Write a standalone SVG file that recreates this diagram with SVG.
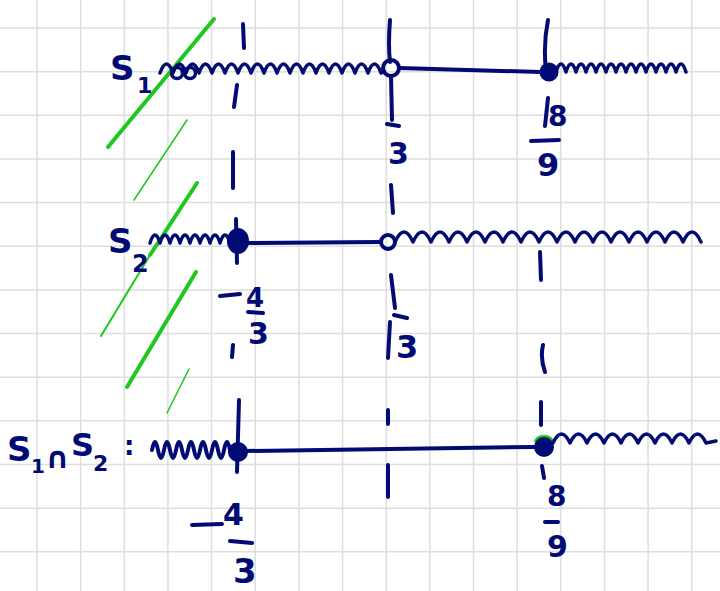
<svg xmlns="http://www.w3.org/2000/svg" width="720" height="591" viewBox="0 0 720 591">
<style>
.grid{stroke:#dedede;stroke-width:1.5;fill:none}
.ink{stroke:#020a74;stroke-width:4;fill:none;stroke-linecap:round;stroke-linejoin:round}
.thin{stroke-width:3.5}
.dot{fill:#020a74}
.g{stroke:#1ec81e;fill:none;stroke-linecap:round}
.t{fill:#020a74;font-family:"DejaVu Sans",sans-serif;font-weight:bold}
</style>
<rect width="720" height="591" fill="#ffffff"/>
<path class="grid" d="M37,0V591M80.65,0V591M124.3,0V591M167.95,0V591M211.6,0V591M255.25,0V591M298.9,0V591M342.55,0V591M386.2,0V591M429.85,0V591M473.5,0V591M517.15,0V591M560.8,0V591M604.45,0V591M648.1,0V591M691.75,0V591M0,28H720M0,71.65H720M0,115.3H720M0,158.95H720M0,202.6H720M0,246.25H720M0,289.9H720M0,333.55H720M0,377.2H720M0,420.85H720M0,464.5H720M0,508.15H720M0,551.8H720"/>
<g id="green-hatch">
<path class="g" stroke-width="4" d="M108,147L214,19"/>
<path class="g" stroke-width="1.5" d="M134,200L187,120"/>
<path class="g" stroke-width="4" d="M197,183L150,255"/>
<path class="g" stroke-width="2" d="M150,255L101,336"/>
<path class="g" stroke-width="4" d="M196,272L127,387"/>
<path class="g" stroke-width="1.5" d="M167,413L189,369"/>
</g>
<g id="connectors">
<g id="dashes" class="ink">
<path d="M243,24L244,48M237,85L234,107M233,152L233,188M236,219L237,263M233,345L232,357M239,400L237,472"/>
<path d="M390,20Q388,45 390,62M391,76L392,120M387,124L399,126M391,185L393,213M391,275L395,308M394,315L407,318M390,322L388,358M388,410L388,424M388,465L388,497"/>
<path d="M548,20Q543,45 546,70M548,98L545,126M540,252L541,280M543,345Q540,358 545,372M541,402L541,425M542,466L544,478"/>
</g>
<g id="line-s1">
<path class="ink thin" d="M160,73q6.5,-18 13,0q6.5,-18 13,0q6.5,-18 13,0q6.5,-18 13,0q6.5,-18 13,0q6.5,-18 13,0q6.5,-18 13,0q6.5,-18 13,0q6.5,-18 13,0q6.5,-18 13,0q6.5,-18 13,0q6.5,-18 13,0q6.5,-18 13,0q6.5,-18 13,0q6.5,-18 13,0q6.5,-18 13,0q6.5,-18 13,0L384,71"/>
<circle class="ink thin" cx="177" cy="73" r="5.5"/>
<circle class="ink thin" cx="190" cy="73" r="5.5"/>
<circle class="ink" cx="391" cy="68" r="8"/>
<path class="ink" d="M399,68L541,72"/>
<circle class="dot" cx="549" cy="72" r="9.5"/>
<path class="ink thin" d="M556,72q5,-16 10,0q5,-16 10,0q5,-16 10,0q5,-16 10,0q5,-16 10,0q5,-16 10,0q5,-16 10,0q5,-16 10,0q5,-16 10,0q5,-16 10,0q5,-16 10,0q5,-16 10,0q5,-16 10,0"/>
</g>
<g id="line-s2">
<path class="ink thin" d="M150,243q5,-16 10,0q5,-16 10,0q5,-16 10,0q5,-16 10,0q5,-16 10,0q5,-16 10,0q5,-16 10,0q5,-16 10,0L232,242"/>
<ellipse class="dot" cx="238" cy="241" rx="11" ry="13"/>
<path class="ink" d="M248,243L381,242"/>
<circle class="ink" cx="388" cy="242" r="7"/>
<path class="ink thin" d="M395,242q9,-20 18,0q9,-20 18,0q9,-20 18,0q9,-20 18,0q9,-20 18,0q9,-20 18,0q9,-20 18,0q9,-20 18,0q9,-20 18,0q9,-20 18,0q9,-20 18,0q9,-20 18,0q9,-20 18,0q9,-20 18,0q9,-20 18,0q9,-20 18,0q9,-20 18,0"/>
</g>
<g id="line-s1s2">
<path class="ink" d="M152,450q3,-16 6,0q3,16 6,0q3,-16 6,0q3,16 6,0q3,-16 6,0q3,16 6,0q3,-16 6,0q3,16 6,0q3,-16 6,0q3,16 6,0q3,-16 6,0q3,16 6,0q3,-16 6,0L232,451"/>
<circle class="dot" cx="238" cy="452" r="10"/>
<path class="ink" d="M246,451L535,447"/>
<path d="M535,442A10,10 0 0 1 553,442" stroke="#1ec81e" stroke-width="3" fill="none"/>
<circle class="dot" cx="544" cy="447" r="10"/>
<path class="ink thin" d="M553,443q8.5,-18 17,0q8.5,-18 17,0q8.5,-18 17,0q8.5,-18 17,0q8.5,-18 17,0q8.5,-18 17,0q8.5,-18 17,0q8.5,-18 17,0q8.5,-18 17,0L716,441"/>
</g>
<g id="fraction-bars" class="ink">
<path d="M531,141L559,140M220,296L240,294M248,312L263,313M192,525L222,524M230,541L252,543M545,522L558,522"/>
</g>
</g>
<g id="labels">
<text class="t" x="110" y="80" font-size="34">S</text>
<text class="t" x="137" y="93" font-size="22">1</text>
<text class="t" x="108" y="253" font-size="34">S</text>
<text class="t" x="132" y="272" font-size="24">2</text>
<text class="t" x="7" y="461" font-size="34">S</text>
<text class="t" x="31" y="473" font-size="20">1</text>
<text class="t" x="45" y="468" font-size="30">∩</text>
<text class="t" x="71" y="456" font-size="32">S</text>
<text class="t" x="93" y="471" font-size="22">2</text>
<text class="t" x="124" y="455" font-size="26">:</text>
<text class="t" x="388" y="164" font-size="30">3</text>
<text class="t" x="548" y="126" font-size="28">8</text>
<text class="t" x="537" y="176" font-size="32">9</text>
<text class="t" x="246" y="307" font-size="26">4</text>
<text class="t" x="248" y="344" font-size="30">3</text>
<text class="t" x="396" y="358" font-size="32">3</text>
<text class="t" x="223" y="525" font-size="30">4</text>
<text class="t" x="233" y="583" font-size="34">3</text>
<text class="t" x="547" y="506" font-size="28">8</text>
<text class="t" x="547" y="557" font-size="30">9</text>
</g>
</svg>
